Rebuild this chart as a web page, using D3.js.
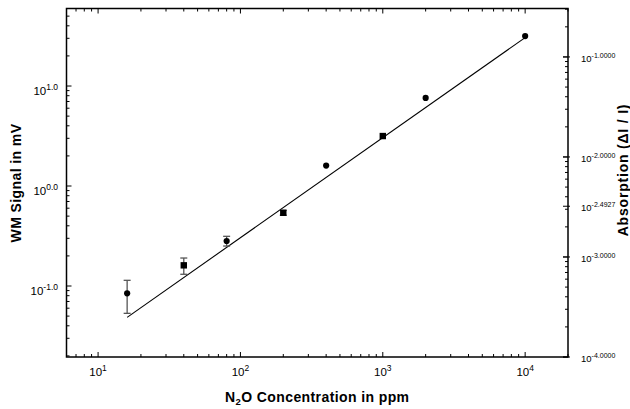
<!DOCTYPE html>
<meta charset="utf-8">
<head>
  <title>WM signal vs N2O concentration</title>
</head>
<body>
<style>
  html, body { margin: 0; padding: 0; background: #fff; }
  svg text { font-family: "Liberation Sans", Arial, sans-serif; fill: #000; }
  .axis-title { font-weight: bold; font-size: 14px; letter-spacing: 0.4px; }
  .frame { fill: none; stroke: #000; stroke-width: 1.5px; }
  .tick { stroke: #000; stroke-width: 1px; }
  .fit { fill: none; stroke: #000; stroke-width: 1.1px; }
  .err { stroke: #555; stroke-width: 1.3px; }
</style>
<div class="chart"></div>
<script src="https://cdn.jsdelivr.net/npm/d3@7"></script>
<script>

// measured points
var concPpm  = [16, 40, 80, 200, 400, 1000, 2000, 10000];
var signalMv = [0.0845, 0.161, 0.282, 0.54, 1.6, 3.16, 7.6, 31.6];
var errLow   = [0.0533, 0.131, 0.251, 0.51, null, null, null, null];
var errHigh  = [0.114, 0.1905, 0.314, 0.57, null, null, null, null];
var markers  = ['circle', 'square', 'circle', 'square', 'circle', 'square', 'circle', 'circle'];

// fitted line
var fitPpm = [16, 10000];
var fitMv  = [0.0486, 30.5];

// tick labels (exponents)
var xExps     = ['1', '2', '3', '4'];
var leftExps  = ['1.0', '0.0', '-1.0'];
var rightExps = ['-1.0000', '-2.0000', '-2.4927', '-3.0000', '-4.0000'];

var width = 630, height = 409;
var plot = {left: 66.5, right: 568, top: 8.5, bottom: 357};

var svg = d3.select('.chart').append('svg')
    .attr('width', width)
    .attr('height', height);

var x = d3.scaleLog().domain([6, 20000]).range([plot.left, plot.right]);
var y = d3.scaleLog().domain([0.0195, 59.6]).range([plot.bottom, plot.top]);
var y2 = d3.scaleLog().domain([1e-4, 0.305]).range([plot.bottom, plot.top]);

function isMajor(v) {
  var l = Math.log10(v);
  return Math.abs(l - Math.round(l)) < 1e-9;
}

// frame
svg.append('rect')
    .attr('class', 'frame')
    .attr('x', plot.left).attr('y', plot.top)
    .attr('width', plot.right - plot.left)
    .attr('height', plot.bottom - plot.top);

// x ticks on bottom and top, pointing inward
var gx = svg.append('g');
x.ticks().forEach(function(v) {
  var len = isMajor(v) ? 5 : 3;
  gx.append('line').attr('class', 'tick')
      .attr('x1', x(v)).attr('x2', x(v))
      .attr('y1', plot.bottom).attr('y2', plot.bottom - len);
  gx.append('line').attr('class', 'tick')
      .attr('x1', x(v)).attr('x2', x(v))
      .attr('y1', plot.top).attr('y2', plot.top + len);
});

xExps.forEach(function(e) {
  var t = gx.append('text')
      .attr('x', x(Math.pow(10, +e)))
      .attr('y', 376)
      .attr('text-anchor', 'middle')
      .style('font-size', '11.5px');
  t.append('tspan').text('10');
  t.append('tspan').attr('dy', -5).style('font-size', '8.5px').text(e);
});

// left axis
var gy = svg.append('g');
y.ticks().forEach(function(v) {
  var len = isMajor(v) ? 5 : 3;
  gy.append('line').attr('class', 'tick')
      .attr('x1', plot.left).attr('x2', plot.left + len)
      .attr('y1', y(v)).attr('y2', y(v));
});

leftExps.forEach(function(e) {
  var t = gy.append('text')
      .attr('x', 58)
      .attr('y', y(Math.pow(10, +e)) + 8.5)
      .attr('text-anchor', 'end')
      .style('font-size', '11.5px');
  t.append('tspan').text('10');
  t.append('tspan').attr('dy', -5).style('font-size', '8.5px').text(e);
});

// right axis
var gy2 = svg.append('g');
y2.ticks().forEach(function(v) {
  var len = isMajor(v) ? 5 : 3;
  gy2.append('line').attr('class', 'tick')
      .attr('x1', plot.right).attr('x2', plot.right - len)
      .attr('y1', y2(v)).attr('y2', y2(v));
});

rightExps.forEach(function(e) {
  var v = Math.pow(10, +e);
  gy2.append('line').attr('class', 'tick')
      .attr('x1', plot.right - 5).attr('x2', plot.right + 2)
      .attr('y1', y2(v)).attr('y2', y2(v));
  var t = gy2.append('text')
      .attr('x', 581)
      .attr('y', y2(v) + 5)
      .style('font-size', '9.5px');
  t.append('tspan').text('10');
  t.append('tspan').attr('dy', -4).style('font-size', '7px').text(e);
});

// axis titles
var xt = svg.append('text')
    .attr('class', 'axis-title')
    .attr('x', (plot.left + plot.right) / 2)
    .attr('y', 402)
    .attr('text-anchor', 'middle');
xt.append('tspan').text('N');
xt.append('tspan').attr('dy', 3).style('font-size', '9.5px').text('2');
xt.append('tspan').attr('dy', -3).text('O Concentration in ppm');

svg.append('text')
    .attr('class', 'axis-title')
    .attr('transform', 'translate(21,183) rotate(-90)')
    .attr('text-anchor', 'middle')
    .text('WM Signal in mV');

svg.append('text')
    .attr('class', 'axis-title')
    .attr('transform', 'translate(628,170) rotate(-90)')
    .attr('text-anchor', 'middle')
    .style('letter-spacing', '0.8px')
    .text('Absorption (\u0394I / I)');

// fit line
svg.append('path')
    .attr('class', 'fit')
    .datum(fitPpm.map(function(p, i) { return [p, fitMv[i]]; }))
    .attr('d', d3.line()
        .x(function(d) { return x(d[0]); })
        .y(function(d) { return y(d[1]); }));

// error bars
var errs = svg.append('g');
concPpm.forEach(function(p, i) {
  if (errLow[i] == null) return;
  var cx = x(p);
  errs.append('line').attr('class', 'err')
      .attr('x1', cx).attr('x2', cx)
      .attr('y1', y(errLow[i])).attr('y2', y(errHigh[i]));
  [errLow[i], errHigh[i]].forEach(function(v) {
    errs.append('line').attr('class', 'err')
        .attr('x1', cx - 3.5).attr('x2', cx + 3.5)
        .attr('y1', y(v)).attr('y2', y(v));
  });
});

// markers
var pts = svg.append('g');
concPpm.forEach(function(p, i) {
  var cx = x(p), cy = y(signalMv[i]);
  if (markers[i] === 'square') {
    pts.append('rect')
        .attr('x', cx - 3.2).attr('y', cy - 3.2)
        .attr('width', 6.4).attr('height', 6.4)
        .attr('fill', '#000');
  } else {
    pts.append('circle')
        .attr('cx', cx).attr('cy', cy).attr('r', 3.1)
        .attr('fill', '#000');
  }
});

</script>
</body>
